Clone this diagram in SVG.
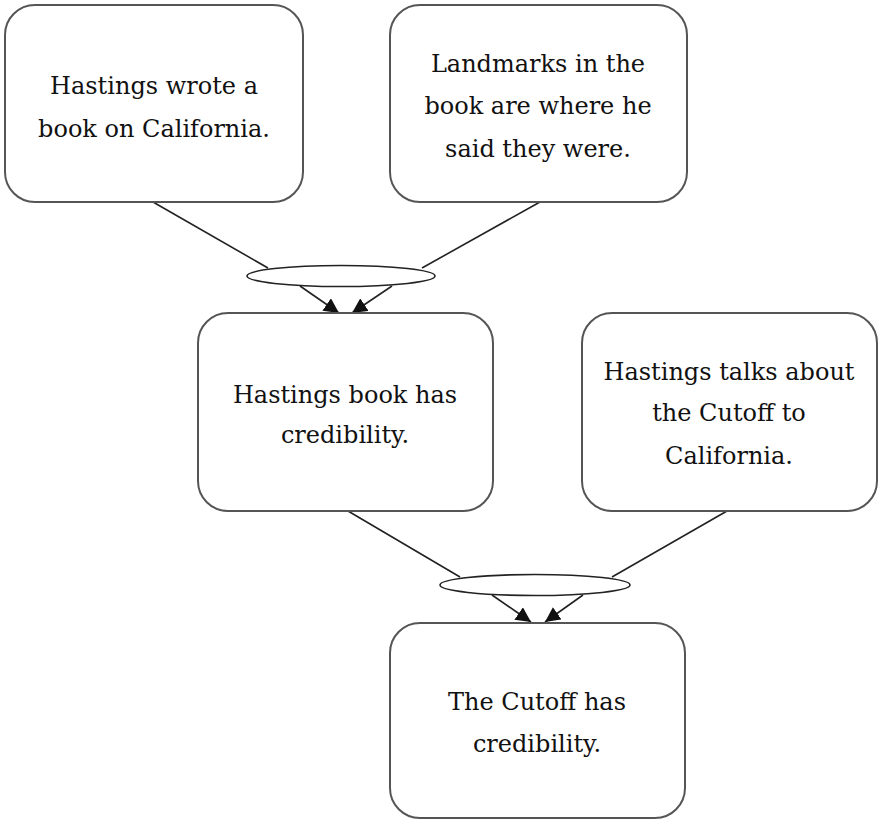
<svg xmlns="http://www.w3.org/2000/svg" width="879" height="820" viewBox="0 0 879 820">
<style>
.box{fill:#fff;stroke:#555;stroke-width:2}
.t{font-family:'DejaVu Serif',serif;font-size:24px;fill:#111;text-anchor:middle}
.c{stroke:#222;stroke-width:1.6;fill:none}
.e{fill:#fff;stroke:#222;stroke-width:1.6}
.a{stroke:#222;stroke-width:1.6;fill:none;marker-end:url(#arr)}
</style>
<defs>
<marker id="arr" markerWidth="15" markerHeight="15" refX="10" refY="5" orient="auto" markerUnits="userSpaceOnUse" viewBox="0 0 10 10">
<path d="M0,0 L10,5 L0,10 z" fill="#111"/>
</marker>
</defs>
<rect width="879" height="820" fill="#fff"/>
<g id="connectors">
<line class="c" x1="153" y1="202" x2="268" y2="268"/>
<line class="c" x1="540" y1="202" x2="422" y2="268"/>
<line class="a" x1="300" y1="286" x2="339" y2="313"/>
<line class="a" x1="392" y1="286" x2="352" y2="313"/>
<ellipse class="e" cx="341" cy="276" rx="94" ry="10.5"/>
<line class="c" x1="348" y1="511" x2="460" y2="577"/>
<line class="c" x1="727" y1="511" x2="612" y2="577"/>
<line class="a" x1="492" y1="595" x2="531" y2="622"/>
<line class="a" x1="583" y1="595" x2="545" y2="622"/>
<ellipse class="e" cx="535" cy="585" rx="95" ry="10.5"/>
</g>
<g id="n1">
<rect class="box" x="5" y="5" width="298" height="197" rx="30"/>
<text class="t" x="154" y="94">Hastings wrote a</text>
<text class="t" x="154" y="137">book on California.</text>
</g>
<g id="n2">
<rect class="box" x="390" y="5" width="297" height="197" rx="30"/>
<text class="t" x="538" y="72">Landmarks in the</text>
<text class="t" x="538" y="114">book are where he</text>
<text class="t" x="538" y="157">said they were.</text>
</g>
<g id="n3">
<rect class="box" x="198" y="313" width="295" height="198" rx="30"/>
<text class="t" x="345" y="403">Hastings book has</text>
<text class="t" x="345" y="443">credibility.</text>
</g>
<g id="n4">
<rect class="box" x="582" y="313" width="295" height="198" rx="30"/>
<text class="t" x="729" y="380">Hastings talks about</text>
<text class="t" x="729" y="421">the Cutoff to</text>
<text class="t" x="729" y="464">California.</text>
</g>
<g id="n5">
<rect class="box" x="390" y="623" width="295" height="195" rx="30"/>
<text class="t" x="537" y="710">The Cutoff has</text>
<text class="t" x="537" y="752">credibility.</text>
</g>
</svg>
